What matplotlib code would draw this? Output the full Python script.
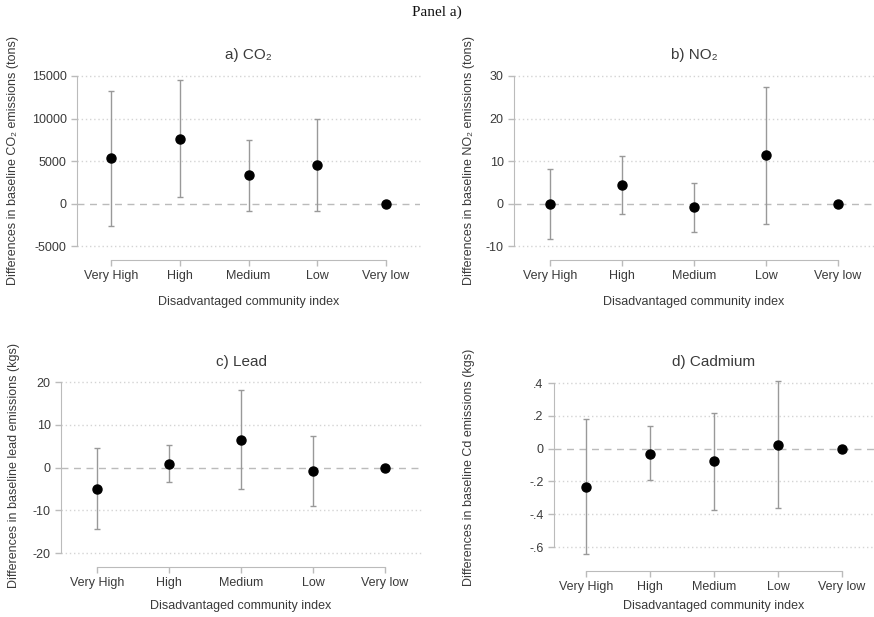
import matplotlib
matplotlib.use("Agg")
import matplotlib.pyplot as plt
import numpy as np

plt.rcParams['font.family'] = ['Liberation Sans', 'DejaVu Sans']

# Categories
cats = ['Very High', 'High', 'Medium', 'Low', 'Very low']

# a) CO2 (tons)
co2_est = [5300, 7600, 3300, 4500, 0]
co2_lo = [-2600, 740, -850, -850, 0]
co2_hi = [13200, 14550, 7480, 9920, 0]

# b) NO2 (tons)
no2_est = [-0.1, 4.3, -0.9, 11.3, 0]
no2_lo = [-8.3, -2.5, -6.6, -4.8, 0]
no2_hi = [8.1, 11.2, 4.9, 27.5, 0]

# c) Lead (kgs)
lead_est = [-5.0, 0.9, 6.5, -0.9, 0]
lead_lo = [-14.4, -3.4, -5.1, -8.9, 0]
lead_hi = [4.45, 5.3, 18.2, 7.3, 0]

# d) Cadmium (kgs)
cd_est = [-0.233, -0.031, -0.078, 0.02, 0]
cd_lo = [-0.64, -0.194, -0.373, -0.361, 0]
cd_hi = [0.18, 0.137, 0.22, 0.41, 0]

W, H = 874, 617
fig = plt.figure(figsize=(W / 100, H / 100), dpi=100)

fig.text(437 / W, 1 - 12 / H, 'Panel a)', ha='center', va='center',
         fontsize=11, family='Liberation Serif', color='#111')


def panel(x0, x1, ytop, ybot, est, lo, hi, ticks, ticklabels, title, ylab,
          ylab_x, ylab_y, offset, title_y, xlab_y):
    # x0/x1: pixel x of axes edges; ytop/ybot: pixel y of top/bottom tick
    ax = fig.add_axes([x0 / W, 1 - ybot / H, (x1 - x0) / W, (ybot - ytop) / H])
    ax.set_ylim(ticks[0], ticks[-1])
    ax.set_xlim(-0.5, 4.5)
    x = np.arange(len(cats))
    est = np.array(est)
    yerr = [est - np.array(lo), np.array(hi) - est]
    for t in ticks:
        if t != 0:
            ax.axhline(t, color='#d4d4d4', lw=1, ls=(0, (1, 2)), zorder=0,
                       clip_on=False)
    ax.axhline(0, color='#bbbbbb', lw=1, ls=(0, (5, 4)), zorder=0)
    ax.errorbar(x, est, yerr=yerr, fmt='none', ecolor='#999999',
                elinewidth=1, capsize=2.5, capthick=1, zorder=2, clip_on=False)
    ax.plot(x, est, 'o', color='black', ms=6.5, zorder=3, clip_on=False)
    for s in ['top', 'right']:
        ax.spines[s].set_visible(False)
    ax.spines['left'].set_color('#bbbbbb')
    ax.spines['bottom'].set_color('#bbbbbb')
    ax.spines['bottom'].set_position(('outward', offset))
    ax.spines['bottom'].set_bounds(0, 4)
    ax.set_yticks(ticks)
    ax.set_yticklabels(ticklabels)
    ax.set_xticks(x)
    ax.set_xticklabels(cats)
    ax.tick_params(axis='both', colors='#bbbbbb', labelcolor='#3a3a3a',
                   labelsize=9, length=4, width=1)
    cx = (x0 + x1) / 2
    fig.text(cx / W, 1 - title_y / H, title, ha='center', va='center',
             fontsize=11, color='#3a3a3a')
    fig.text(cx / W, 1 - xlab_y / H, 'Disadvantaged community index',
             ha='center', va='center', fontsize=9, color='#3a3a3a')
    fig.text(ylab_x / W, 1 - ylab_y / H, ylab,
             ha='center', va='center', rotation=90, fontsize=9,
             color='#3a3a3a')
    return ax


panel(77, 420, 76, 246, co2_est, co2_lo, co2_hi,
      [-5000, 0, 5000, 10000, 15000], ['-5000', '0', '5000', '10000', '15000'],
      'a) CO\u2082', 'Differences in baseline CO\u2082 emissions (tons)',
      13, 160, 10, 55, 302)

panel(514, 874, 76, 246, no2_est, no2_lo, no2_hi,
      [-10, 0, 10, 20, 30], ['-10', '0', '10', '20', '30'],
      'b) NO\u2082', 'Differences in baseline NO\u2082 emissions (tons)',
      469, 160, 10, 55, 302)

panel(61, 421, 382, 553, lead_est, lead_lo, lead_hi,
      [-20, -10, 0, 10, 20], ['-20', '-10', '0', '10', '20'],
      'c) Lead', 'Differences in baseline lead emissions (kgs)',
      14, 466, 10, 362, 606)

panel(554, 874, 383, 547, cd_est, cd_lo, cd_hi,
      [-0.6, -0.4, -0.2, 0, 0.2, 0.4], ['-.6', '-.4', '-.2', '0', '.2', '.4'],
      'd) Cadmium', 'Differences in baseline Cd emissions (kgs)',
      469, 467, 17, 362, 606)

fig.savefig('out.png', dpi=100, facecolor='white')
